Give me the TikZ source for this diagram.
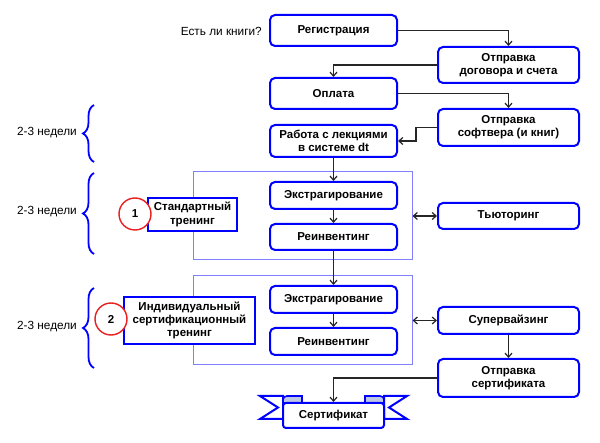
\documentclass[tikz,border=0pt]{standalone}
\usepackage{fontspec}
\setmainfont{Liberation Sans}
\usetikzlibrary{arrows.meta,decorations.pathreplacing}
\definecolor{bblue}{RGB}{0,0,255}
\definecolor{lblue}{RGB}{128,128,255}
\definecolor{rred}{RGB}{235,30,30}
\definecolor{foldc}{RGB}{190,200,228}
\begin{document}
\begin{tikzpicture}[x=1pt,y=-1pt,
  bbox/.style={draw=bblue, line width=2pt, rounded corners=5pt, fill=white, align=center,
    font=\fontsize{11.5}{13.3}\selectfont\bfseries, inner sep=1pt},
  sbox/.style={draw=bblue, line width=1.6pt, fill=white, align=center,
    font=\fontsize{11.5}{13.3}\selectfont\bfseries, inner sep=1pt},
  obox/.style={draw=lblue, line width=1pt},
  arr/.style={draw=black!85, line width=1.2pt, -{Straight Barb[length=4pt,width=7pt]}},
  darr/.style={draw=black!85, line width=1.2pt, {Straight Barb[length=4pt,width=7pt]}-{Straight Barb[length=4pt,width=7pt]}},
  circ/.style={circle, draw=rred, line width=1.4pt, fill=white, minimum size=32pt, inner sep=0pt,
    font=\fontsize{11.5}{13.3}\selectfont\bfseries},
  lbl/.style={font=\fontsize{11.8}{13.5}\selectfont, inner sep=0pt},
  br/.style={draw=bblue, line width=1.8pt, decorate, decoration={brace, amplitude=11pt}},
  ribbon/.style={draw=bblue, line width=2pt, fill=white, line join=miter},
  fold/.style={draw=bblue, line width=1.6pt, fill=foldc}
]
\useasboundingbox (0,0) rectangle (600,443);

% outer groups
\node[obox, minimum width=219pt, minimum height=88pt] (o1) at (302.5,216) {};
\node[obox, minimum width=219pt, minimum height=89pt] (o2) at (302.5,320.5) {};

% main boxes
\node[bbox, minimum width=127pt, minimum height=31pt] (reg) at (333.5,30.5) {Регистрация};
\node[bbox, minimum width=141pt, minimum height=36pt] (dog) at (508.5,65) {Отправка\\договора и счета};
\node[bbox, minimum width=127pt, minimum height=31pt] (opl) at (333.5,93.5) {Оплата};
\node[bbox, minimum width=141pt, minimum height=37pt] (soft) at (508.5,127.5) {Отправка\\софтвера (и книг)};
\node[bbox, minimum width=127pt, minimum height=32pt] (rab) at (333.5,141) {Работа с лекциями\\в системе dt};
\node[bbox, minimum width=127pt, minimum height=27pt] (ex1) at (333.5,195.5) {Экстрагирование};
\node[bbox, minimum width=127pt, minimum height=26pt] (re1) at (333.5,237) {Реинвентинг};
\node[bbox, minimum width=141pt, minimum height=26pt] (tut) at (508.5,216) {Тьюторинг};
\node[bbox, minimum width=127pt, minimum height=27pt] (ex2) at (333.5,299.5) {Экстрагирование};
\node[bbox, minimum width=127pt, minimum height=27pt] (re2) at (333.5,341.5) {Реинвентинг};
\node[bbox, minimum width=141pt, minimum height=27pt] (sup) at (508.5,320.5) {Супервайзинг};
\node[bbox, minimum width=141pt, minimum height=38pt] (cert) at (508.5,378) {Отправка\\сертификата};

% training boxes and circles
\node[sbox, minimum width=89pt, minimum height=33pt] (std) at (192.5,214.5) {Стандартный\\тренинг};
\node[sbox, minimum width=131pt, minimum height=47pt] (ind) at (189.5,320.5) {Индивидуальный\\сертификационный\\тренинг};
\node[circ] (c1) at (135,214) {1};
\node[circ] (c2) at (111,319) {2};

% labels
\node[lbl, anchor=east] (q) at (262,31) {Есть ли книги?};
\node[lbl, anchor=east] (w1) at (77,133) {2-3 недели};
\node[lbl, anchor=east] (w2) at (77,212) {2-3 недели};
\node[lbl, anchor=east] (w3) at (77,327) {2-3 недели};

% braces
\draw[br] (94,162) -- (94,105);
\draw[br] (94,254) -- (94,173);
\draw[br] (94,368) -- (94,288);

% ribbon
\filldraw[ribbon] (260,396) -- (283,396) -- (283,419) -- (260,419) -- (278,407.5) -- cycle;
\filldraw[ribbon] (407,396) -- (384,396) -- (384,419) -- (407,419) -- (389,407.5) -- cycle;
\filldraw[fold] (302,403) -- (302,396) -- (287,396) to[out=180,in=90] (283,399.5) -- (283,403) -- cycle;
\filldraw[fold] (365,403) -- (365,396) -- (380,396) to[out=0,in=90] (384,399.5) -- (384,403) -- cycle;
\node[bbox, rounded corners=3pt, minimum width=101pt, minimum height=25pt] (rib) at (333.5,415.5) {Сертификат};

% connectors
\draw[arr] (reg.east) -| (dog.north);
\draw[arr] (dog.west) -| (opl.north);
\draw[arr] (opl.east) -| (soft.north);
\draw[arr] (soft.west) -- ++(-21,0) |- (rab.east);
\draw[arr] (rab.south) -- (ex1.north);
\draw[arr] (ex1.south) -- (re1.north);
\draw[arr] (re1.south) -- (ex2.north);
\draw[arr] (ex2.south) -- (re2.north);
\draw[darr] (o1.east) -- (tut.west);
\draw[darr] (o2.east) -- (sup.west);
\draw[arr] (sup.south) -- (cert.north);
\draw[arr] (cert.west) -| (rib.north);
\end{tikzpicture}
\end{document}
